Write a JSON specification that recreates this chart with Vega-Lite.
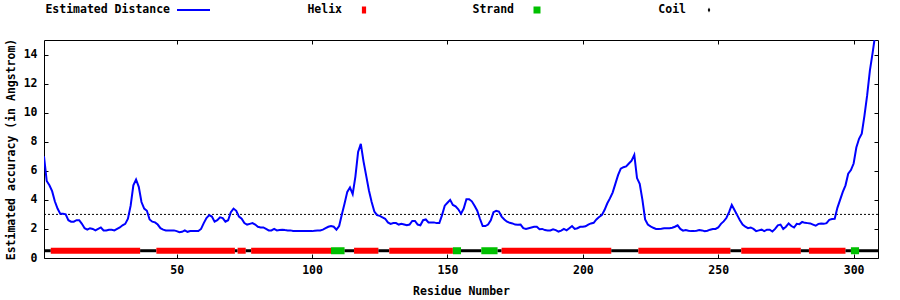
{
  "$schema": "https://vega.github.io/schema/vega-lite/v6.json",
  "padding": {"left": 4, "top": 1, "right": 0, "bottom": 0},
  "spacing": 18,
  "config": {
    "font": "DejaVu Sans Mono",
    "view": {"stroke": null},
    "axis": {
      "labelFont": "DejaVu Sans Mono", "labelFontWeight": "bold", "labelFontSize": 11.5, "labelColor": "black",
      "titleFont": "DejaVu Sans Mono", "titleFontWeight": "bold", "titleFontSize": 11.5, "titleColor": "black",
      "tickColor": "black", "domain": false, "grid": false, "tickSize": -4
    }
  },
  "datasets": {
    "legend": [
      {"item": "Estimated Distance"}, {"item": "Helix"}, {"item": "Strand"}, {"item": "Coil"}
    ],
    "dist": [
      {"r":1,"d":7.0},{"r":2,"d":5.3},{"r":3,"d":5.0},{"r":4,"d":4.6},{"r":5,"d":3.9},{"r":6,"d":3.4},{"r":7,"d":3.05},{"r":8,"d":3.05},{"r":9,"d":3.0},{"r":10,"d":2.6},
      {"r":11,"d":2.5},{"r":12,"d":2.5},{"r":13,"d":2.6},{"r":14,"d":2.6},{"r":15,"d":2.35},{"r":16,"d":2.05},{"r":17,"d":1.95},{"r":18,"d":2.05},{"r":19,"d":2.0},{"r":20,"d":1.9},
      {"r":21,"d":2.0},{"r":22,"d":2.1},{"r":23,"d":1.9},{"r":24,"d":1.9},{"r":25,"d":1.95},{"r":26,"d":1.95},{"r":27,"d":1.9},{"r":28,"d":2.0},{"r":29,"d":2.1},{"r":30,"d":2.25},
      {"r":31,"d":2.35},{"r":32,"d":2.7},{"r":33,"d":3.6},{"r":34,"d":5.0},{"r":35,"d":5.4},{"r":36,"d":4.9},{"r":37,"d":3.85},{"r":38,"d":3.4},{"r":39,"d":3.25},{"r":40,"d":2.65},
      {"r":41,"d":2.5},{"r":42,"d":2.45},{"r":43,"d":2.3},{"r":44,"d":2.05},{"r":45,"d":1.95},{"r":46,"d":1.9},{"r":47,"d":1.9},{"r":48,"d":1.9},{"r":49,"d":1.9},{"r":50,"d":1.85},
      {"r":51,"d":1.78},{"r":52,"d":1.8},{"r":53,"d":1.9},{"r":54,"d":1.8},{"r":55,"d":1.85},{"r":56,"d":1.85},{"r":57,"d":1.85},{"r":58,"d":1.85},{"r":59,"d":2.0},{"r":60,"d":2.4},
      {"r":61,"d":2.75},{"r":62,"d":2.95},{"r":63,"d":2.85},{"r":64,"d":2.5},{"r":65,"d":2.6},{"r":66,"d":2.8},{"r":67,"d":2.75},{"r":68,"d":2.5},{"r":69,"d":2.6},{"r":70,"d":3.15},
      {"r":71,"d":3.4},{"r":72,"d":3.25},{"r":73,"d":2.85},{"r":74,"d":2.7},{"r":75,"d":2.4},{"r":76,"d":2.3},{"r":77,"d":2.35},{"r":78,"d":2.4},{"r":79,"d":2.3},{"r":80,"d":2.15},
      {"r":81,"d":2.1},{"r":82,"d":2.1},{"r":83,"d":2.0},{"r":84,"d":1.9},{"r":85,"d":1.9},{"r":86,"d":2.0},{"r":87,"d":1.9},{"r":88,"d":1.93},{"r":89,"d":1.95},{"r":90,"d":1.92},
      {"r":91,"d":1.9},{"r":92,"d":1.9},{"r":93,"d":1.86},{"r":94,"d":1.85},{"r":95,"d":1.85},{"r":96,"d":1.85},{"r":97,"d":1.85},{"r":98,"d":1.85},{"r":99,"d":1.85},{"r":100,"d":1.85},
      {"r":101,"d":1.88},{"r":102,"d":1.9},{"r":103,"d":1.9},{"r":104,"d":1.95},{"r":105,"d":2.05},{"r":106,"d":2.15},{"r":107,"d":2.2},{"r":108,"d":2.15},{"r":109,"d":1.95},{"r":110,"d":2.2},
      {"r":111,"d":3.0},{"r":112,"d":3.75},{"r":113,"d":4.55},{"r":114,"d":4.85},{"r":115,"d":4.4},{"r":116,"d":5.6},{"r":117,"d":7.3},{"r":118,"d":7.85},{"r":119,"d":6.65},{"r":120,"d":5.65},
      {"r":121,"d":4.65},{"r":122,"d":3.85},{"r":123,"d":3.2},{"r":124,"d":2.95},{"r":125,"d":2.9},{"r":126,"d":2.8},{"r":127,"d":2.7},{"r":128,"d":2.45},{"r":129,"d":2.35},{"r":130,"d":2.4},
      {"r":131,"d":2.4},{"r":132,"d":2.3},{"r":133,"d":2.35},{"r":134,"d":2.3},{"r":135,"d":2.25},{"r":136,"d":2.3},{"r":137,"d":2.55},{"r":138,"d":2.55},{"r":139,"d":2.3},{"r":140,"d":2.25},
      {"r":141,"d":2.6},{"r":142,"d":2.65},{"r":143,"d":2.45},{"r":144,"d":2.45},{"r":145,"d":2.45},{"r":146,"d":2.4},{"r":147,"d":2.4},{"r":148,"d":2.95},{"r":149,"d":3.6},{"r":150,"d":3.8},
      {"r":151,"d":4.0},{"r":152,"d":3.65},{"r":153,"d":3.55},{"r":154,"d":3.35},{"r":155,"d":3.05},{"r":156,"d":3.4},{"r":157,"d":4.05},{"r":158,"d":4.05},{"r":159,"d":3.9},{"r":160,"d":3.6},
      {"r":161,"d":3.25},{"r":162,"d":2.7},{"r":163,"d":2.2},{"r":164,"d":2.2},{"r":165,"d":2.3},{"r":166,"d":2.6},{"r":167,"d":3.15},{"r":168,"d":3.25},{"r":169,"d":3.2},{"r":170,"d":2.85},
      {"r":171,"d":2.65},{"r":172,"d":2.5},{"r":173,"d":2.42},{"r":174,"d":2.38},{"r":175,"d":2.3},{"r":176,"d":2.28},{"r":177,"d":2.3},{"r":178,"d":2.05},{"r":179,"d":2.0},{"r":180,"d":2.05},
      {"r":181,"d":2.1},{"r":182,"d":2.15},{"r":183,"d":2.15},{"r":184,"d":1.98},{"r":185,"d":2.0},{"r":186,"d":1.92},{"r":187,"d":1.9},{"r":188,"d":1.9},{"r":189,"d":1.98},{"r":190,"d":1.92},
      {"r":191,"d":1.82},{"r":192,"d":1.88},{"r":193,"d":2.0},{"r":194,"d":1.9},{"r":195,"d":2.05},{"r":196,"d":2.2},{"r":197,"d":2.0},{"r":198,"d":2.05},{"r":199,"d":2.15},{"r":200,"d":2.15},
      {"r":201,"d":2.18},{"r":202,"d":2.3},{"r":203,"d":2.38},{"r":204,"d":2.42},{"r":205,"d":2.65},{"r":206,"d":2.82},{"r":207,"d":2.95},{"r":208,"d":3.3},{"r":209,"d":3.75},{"r":210,"d":4.1},
      {"r":211,"d":4.5},{"r":212,"d":5.1},{"r":213,"d":5.7},{"r":214,"d":6.15},{"r":215,"d":6.25},{"r":216,"d":6.3},{"r":217,"d":6.5},{"r":218,"d":6.7},{"r":219,"d":7.1},{"r":220,"d":5.5},
      {"r":221,"d":5.1},{"r":222,"d":4.0},{"r":223,"d":2.65},{"r":224,"d":2.3},{"r":225,"d":2.18},{"r":226,"d":2.08},{"r":227,"d":2.0},{"r":228,"d":2.0},{"r":229,"d":2.02},{"r":230,"d":2.05},
      {"r":231,"d":2.05},{"r":232,"d":2.05},{"r":233,"d":2.08},{"r":234,"d":2.15},{"r":235,"d":2.25},{"r":236,"d":2.0},{"r":237,"d":1.88},{"r":238,"d":1.93},{"r":239,"d":1.88},{"r":240,"d":1.85},
      {"r":241,"d":1.85},{"r":242,"d":1.88},{"r":243,"d":1.92},{"r":244,"d":1.9},{"r":245,"d":1.85},{"r":246,"d":1.88},{"r":247,"d":1.95},{"r":248,"d":2.0},{"r":249,"d":2.0},{"r":250,"d":2.1},
      {"r":251,"d":2.35},{"r":252,"d":2.52},{"r":253,"d":2.75},{"r":254,"d":3.15},{"r":255,"d":3.65},{"r":256,"d":3.3},{"r":257,"d":2.95},{"r":258,"d":2.6},{"r":259,"d":2.3},{"r":260,"d":2.15},
      {"r":261,"d":2.05},{"r":262,"d":2.1},{"r":263,"d":2.0},{"r":264,"d":1.85},{"r":265,"d":1.9},{"r":266,"d":1.95},{"r":267,"d":1.85},{"r":268,"d":1.95},{"r":269,"d":1.95},{"r":270,"d":1.82},
      {"r":271,"d":2.0},{"r":272,"d":2.25},{"r":273,"d":2.3},{"r":274,"d":2.0},{"r":275,"d":2.15},{"r":276,"d":2.38},{"r":277,"d":2.2},{"r":278,"d":2.1},{"r":279,"d":2.35},{"r":280,"d":2.33},
      {"r":281,"d":2.48},{"r":282,"d":2.42},{"r":283,"d":2.4},{"r":284,"d":2.38},{"r":285,"d":2.3},{"r":286,"d":2.22},{"r":287,"d":2.35},{"r":288,"d":2.38},{"r":289,"d":2.35},{"r":290,"d":2.4},
      {"r":291,"d":2.62},{"r":292,"d":2.68},{"r":293,"d":2.7},{"r":294,"d":3.45},{"r":295,"d":4.0},{"r":296,"d":4.55},{"r":297,"d":5.0},{"r":298,"d":5.8},{"r":299,"d":6.05},{"r":300,"d":6.5},
      {"r":301,"d":7.6},{"r":302,"d":8.2},{"r":303,"d":8.55},{"r":304,"d":9.8},{"r":305,"d":11.2},{"r":306,"d":12.9},{"r":307,"d":14.1},{"r":308,"d":15.4}
    ],
    "ss": [
      {"ss":"Coil","start":1,"end":3.5},{"ss":"Helix","start":3.5,"end":36.5},{"ss":"Coil","start":36.5,"end":42.5},
      {"ss":"Helix","start":42.5,"end":71.5},{"ss":"Coil","start":71.5,"end":72.5},{"ss":"Helix","start":72.5,"end":75.5},
      {"ss":"Coil","start":75.5,"end":77.5},{"ss":"Helix","start":77.5,"end":107},{"ss":"Strand","start":107,"end":112},
      {"ss":"Coil","start":112,"end":115.5},{"ss":"Helix","start":115.5,"end":124.5},{"ss":"Coil","start":124.5,"end":128.5},
      {"ss":"Helix","start":128.5,"end":152},{"ss":"Strand","start":152,"end":155},{"ss":"Coil","start":155,"end":162.5},
      {"ss":"Strand","start":162.5,"end":168.5},{"ss":"Coil","start":168.5,"end":170},{"ss":"Helix","start":170,"end":210.5},
      {"ss":"Coil","start":210.5,"end":220.5},{"ss":"Helix","start":220.5,"end":254.5},{"ss":"Coil","start":254.5,"end":258.5},
      {"ss":"Helix","start":258.5,"end":280.5},{"ss":"Coil","start":280.5,"end":283.5},{"ss":"Helix","start":283.5,"end":297},
      {"ss":"Coil","start":297,"end":299},{"ss":"Strand","start":299,"end":302},{"ss":"Coil","start":302,"end":309}
    ]
  },
  "vconcat": [
    {
      "width": 834,
      "height": 18,
      "view": {"stroke": null},
      "data": {"name": "legend"},
      "encoding": {
        "x": {"field": "item", "type": "nominal", "bandPosition": 1,
              "scale": {"type": "band", "domain": ["Estimated Distance", "Helix", "Strand", "Coil"], "range": [-46, 642], "paddingInner": 0, "paddingOuter": 0},
              "axis": null}
      },
      "layer": [
        {
          "mark": {"type": "text", "align": "right", "baseline": "middle", "font": "DejaVu Sans Mono", "fontWeight": "bold", "fontSize": 11.5, "color": "black"},
          "encoding": {"text": {"field": "item"}}
        },
        {
          "transform": [{"filter": "datum.item === 'Estimated Distance'"}],
          "mark": {"type": "point", "shape": "M-1,0L1,0", "filled": false, "size": 1089, "strokeWidth": 2, "color": "#0000ff", "opacity": 1, "xOffset": 23.5}
        },
        {
          "transform": [{"filter": "datum.item === 'Helix'"}],
          "mark": {"type": "point", "shape": "M-0.6,-1L0.6,-1L0.6,1L-0.6,1Z", "filled": true, "size": 49, "color": "#ff0000", "opacity": 1, "xOffset": 22}
        },
        {
          "transform": [{"filter": "datum.item === 'Strand'"}],
          "mark": {"type": "point", "shape": "square", "filled": true, "size": 49, "color": "#00c000", "opacity": 1, "xOffset": 23}
        },
        {
          "transform": [{"filter": "datum.item === 'Coil'"}],
          "mark": {"type": "point", "shape": "M0,-1L0.5,0L0,1L-0.5,0Z", "filled": true, "size": 25, "color": "#000000", "opacity": 1, "xOffset": 23}
        }
      ]
    },
    {
      "width": 834,
      "height": 218,
      "view": {"stroke": "black", "strokeWidth": 1},
      "resolve": {"axis": {"x": "independent", "y": "independent"}},
      "layer": [
        {
          "data": {"values": [{"threshold": 3}]},
          "mark": {"type": "rule", "color": "black", "strokeWidth": 1, "strokeDash": [2, 2]},
          "encoding": {
            "y": {"field": "threshold", "type": "quantitative", "scale": {"domain": [0, 15], "nice": false, "zero": false}, "axis": null}
          }
        },
        {
          "data": {"name": "ss"},
          "mark": {"type": "rule", "strokeCap": "butt"},
          "encoding": {
            "x": {"field": "start", "type": "quantitative", "scale": {"domain": [1, 309], "nice": false, "zero": false},
                  "axis": {"orient": "top", "values": [50, 100, 150, 200, 250, 300], "labels": false, "title": null}},
            "x2": {"field": "end"},
            "y": {"datum": 0.5, "type": "quantitative",
                  "axis": {"orient": "right", "values": [0, 2, 4, 6, 8, 10, 12, 14], "labels": false, "title": null}},
            "color": {"field": "ss", "type": "nominal", "scale": {"domain": ["Helix", "Strand", "Coil"], "range": ["#ff0000", "#00c000", "#000000"]}, "legend": null},
            "strokeWidth": {"field": "ss", "type": "nominal", "scale": {"type": "ordinal", "domain": ["Helix", "Strand", "Coil"], "range": [6, 7, 3]}, "legend": null}
          }
        },
        {
          "data": {"name": "dist"},
          "mark": {"type": "line", "color": "#0000ff", "strokeWidth": 2, "clip": true, "interpolate": "linear"},
          "encoding": {
            "x": {"field": "r", "type": "quantitative",
                  "axis": {"orient": "bottom", "values": [50, 100, 150, 200, 250, 300], "title": "Residue Number", "labelPadding": 10, "titlePadding": 10}},
            "y": {"field": "d", "type": "quantitative",
                  "axis": {"orient": "left", "values": [0, 2, 4, 6, 8, 10, 12, 14], "title": "Estimated accuracy (in Angstrom)", "labelPadding": 11, "titlePadding": 7}}
          }
        }
      ]
    }
  ]
}
